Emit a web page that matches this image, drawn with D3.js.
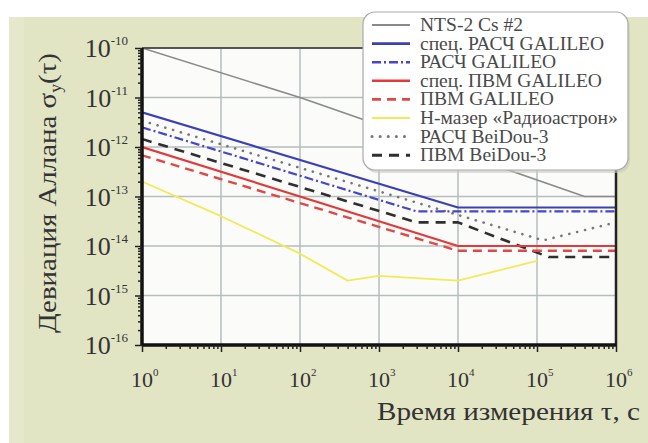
<!DOCTYPE html>
<html><head><meta charset="utf-8">
<script src="https://cdn.jsdelivr.net/npm/d3@7"></script>
<style>body{margin:0;background:#fff}svg{display:block}svg text{font-family:"Liberation Serif","DejaVu Serif",serif}</style>
</head><body><svg id="c" width="648" height="443"></svg>
<script>
// ---- data ----
const seriesNames = ["NTS-2 Cs #2","спец. РАСЧ GALILEO","РАСЧ GALILEO","спец. ПВМ GALILEO","ПВМ GALILEO","H-мазер «Радиоастрон»","РАСЧ BeiDou-3","ПВМ BeiDou-3"];
const ntsTau = [1, 1e2, 4e5, 1e6];
const ntsVal = [1e-10, 1e-11, 1e-13, 1e-13];
const specRaschTau = [1, 1e4, 1e6];
const specRaschVal = [5e-12, 6e-14, 6e-14];
const raschTau = [1, 3e3, 1e6];
const raschVal = [2.5e-12, 5e-14, 5e-14];
const specPvmTau = [1, 1e4, 1e6];
const specPvmVal = [1e-12, 1e-14, 1e-14];
const pvmTau = [1, 1e4, 1e6];
const pvmVal = [6.8e-13, 8e-15, 8e-15];
const maserTau = [1, 10, 100, 400, 1000, 1e4, 1e5];
const maserVal = [2e-13, 4e-14, 7e-15, 2e-15, 2.5e-15, 2e-15, 5e-15];
const bdRaschTau = [1, 1.2e5, 1e6];
const bdRaschVal = [3.4e-12, 1.3e-14, 3e-14];
const bdPvmTau = [1, 3e3, 1e4, 1.4e5, 1e6];
const bdPvmVal = [1.45e-12, 3e-14, 3e-14, 6e-15, 6e-15];
const xTickExp = [0,1,2,3,4,5,6];
const yTickExp = [-10,-11,-12,-13,-14,-15,-16];
const xTitle = "Время измерения τ, с";

const styles = [
  {c:"#8a8a8a", w:1.6, d:null},
  {c:"#3d3fb4", w:2.2, d:null},
  {c:"#4646c8", w:2.2, d:"9,3,2,3"},
  {c:"#e03a3a", w:2.2, d:null},
  {c:"#e04848", w:2.4, d:"9,6"},
  {c:"#f2ea5a", w:1.8, d:null},
  {c:"#777777", w:2.6, d:"0.1,8", cap:"round"},
  {c:"#2f2f2f", w:2.6, d:"10,7"}
];
const seriesData = [
  [ntsTau,ntsVal],[specRaschTau,specRaschVal],[raschTau,raschVal],[specPvmTau,specPvmVal],
  [pvmTau,pvmVal],[maserTau,maserVal],[bdRaschTau,bdRaschVal],[bdPvmTau,bdPvmVal]
];
const drawOrder = [0,5,6,7,2,1,4,3];

const svg = d3.select("#c");
const L=142, R=616, T=48, B=345;
const x = d3.scaleLog().domain([1,1e6]).range([L,R]);
const y = d3.scaleLog().domain([1e-16,1e-10]).range([B,T]);

svg.append("rect").attr("x",0).attr("y",0).attr("width",648).attr("height",443).attr("fill","#ffffff");
svg.append("rect").attr("x",9).attr("y",17).attr("width",639).attr("height",426).attr("fill","#e2e5c4");
svg.append("rect").attr("x",9).attr("y",17).attr("width",15).attr("height",426).attr("fill","#e6e8cc");
svg.append("rect").attr("x",L).attr("y",T).attr("width",R-L).attr("height",B-T).attr("fill","#fbfcfa");

const g = svg.append("g");
xTickExp.forEach(e=>{ g.append("line").attr("x1",x(10**e)).attr("x2",x(10**e)).attr("y1",T).attr("y2",B).attr("stroke","#b6bdbd").attr("stroke-width",1.5); });
yTickExp.forEach(e=>{ g.append("line").attr("x1",L).attr("x2",R).attr("y1",y(10**e)).attr("y2",y(10**e)).attr("stroke","#b6bdbd").attr("stroke-width",1.5); });

const line = d3.line().x(d=>x(d[0])).y(d=>y(d[1]));
svg.append("clipPath").attr("id","pc").append("rect").attr("x",L).attr("y",T).attr("width",R-L).attr("height",B-T);
const lg = svg.append("g").attr("clip-path","url(#pc)");
drawOrder.forEach(i=>{
  const [t,v]=seriesData[i]; const s=styles[i];
  lg.append("path").datum(t.map((tt,k)=>[tt,v[k]])).attr("d",line).attr("fill","none")
    .attr("stroke",s.c).attr("stroke-width",s.w).attr("stroke-dasharray",s.d)
    .attr("stroke-linecap",s.cap||"butt").attr("stroke-linejoin","round");
});

svg.append("line").attr("x1",L).attr("x2",R).attr("y1",T).attr("y2",T).attr("stroke","#555").attr("stroke-width",2);
svg.append("line").attr("x1",R).attr("x2",R).attr("y1",T).attr("y2",B).attr("stroke","#222").attr("stroke-width",2.5);
const xAxis = d3.axisBottom(x).tickValues(d3.range(0,6).flatMap(e=>d3.range(1,10).map(m=>m*10**e)).concat([1e6])).tickSize(4).tickFormat("");
const ax = svg.append("g").attr("transform",`translate(0,${B})`).call(xAxis);
ax.selectAll(".tick line").attr("stroke","#222").attr("stroke-width",1.5)
  .attr("y2",d=>Math.abs(Math.log10(d)-Math.round(Math.log10(d)))<1e-9?7:4);
ax.select(".domain").attr("stroke","#111").attr("stroke-width",3.5).attr("d",`M${L},0H${R}`);
const yAxis = d3.axisLeft(y).tickValues(d3.range(-16,-10).flatMap(e=>d3.range(1,10).map(m=>m*10**e)).concat([1e-10])).tickSize(4).tickFormat("");
const ay = svg.append("g").attr("transform",`translate(${L},0)`).call(yAxis);
ay.selectAll(".tick line").attr("stroke","#222").attr("stroke-width",1.5)
  .attr("x2",d=>Math.abs(Math.log10(d)-Math.round(Math.log10(d)))<1e-6?-7:-4);
ay.select(".domain").attr("stroke","#111").attr("stroke-width",3.5).attr("d",`M0,${T}V${B}`);

yTickExp.forEach(e=>{
  const t = svg.append("text").attr("x",128).attr("y",y(10**e)+9).attr("text-anchor","end")
    .attr("font-size",26).attr("fill","#333");
  t.append("tspan").text("10");
  t.append("tspan").attr("font-size",13).attr("dy",-12).text(e);
});
xTickExp.forEach(e=>{
  const t = svg.append("text").attr("x",x(10**e)-11).attr("y",387)
    .attr("font-size",22).attr("fill","#333");
  t.append("tspan").text("10");
  t.append("tspan").attr("font-size",11).attr("dy",-11).text(e);
});

// stretch helper: scale text horizontally to a target width, anchored at given point
function fitWidth(sel, target){
  const w = sel.node().getComputedTextLength();
  return target / w;
}
// x title (right-aligned at 640)
const xt = svg.append("g");
const xtt = xt.append("text").attr("x",0).attr("y",0).attr("text-anchor","end")
  .attr("font-size",25).attr("fill","#333").text(xTitle);
const sx = fitWidth(xtt, 263);
xt.attr("transform",`translate(640,420) scale(${sx},1)`);

// y title
const ytg = svg.append("g");
const yt = ytg.append("text").attr("x",0).attr("y",0).attr("text-anchor","middle")
  .attr("font-size",26).attr("fill","#333");
yt.append("tspan").text("Девиация Аллана σ");
yt.append("tspan").attr("font-size",16).attr("dy",5).text("y");
yt.append("tspan").attr("dy",-5).text("(τ)");
const sy = fitWidth(yt, 280);
ytg.attr("transform",`translate(56,193) rotate(-90) scale(${sy},1)`);

// legend
const lgx=363, lgy=12, lgw=265, lgh=158;
svg.append("rect").attr("x",lgx+2).attr("y",lgy+3).attr("width",lgw).attr("height",lgh).attr("rx",12).attr("fill","#c8c8c0").attr("opacity",0.6);
svg.append("rect").attr("x",lgx).attr("y",lgy).attr("width",lgw).attr("height",lgh).attr("rx",12).attr("fill","#ffffff").attr("stroke","#aaa").attr("stroke-width",1.2);
const legTexts = [];
seriesNames.forEach((n,i)=>{
  const yy = 25 + i*18.6; const s=styles[i];
  svg.append("line").attr("x1",372).attr("x2",410).attr("y1",yy).attr("y2",yy).attr("stroke",s.c)
    .attr("stroke-width",s.w+0.4).attr("stroke-dasharray",s.d).attr("stroke-linecap",s.cap||"butt");
  const tg = svg.append("g").attr("transform",`translate(420,${yy+6})`);
  const tx = tg.append("text").attr("font-size",18).attr("fill","#4a4a4a").text(n);
  legTexts.push([tg,tx]);
});
const longest = d3.max(legTexts, d=>d[1].node().getComputedTextLength());
const ls = 198/longest;
legTexts.forEach(([tg,tx],i)=>{ tg.attr("transform", tg.attr("transform")+` scale(${ls},1)`); });
</script></body></html>
